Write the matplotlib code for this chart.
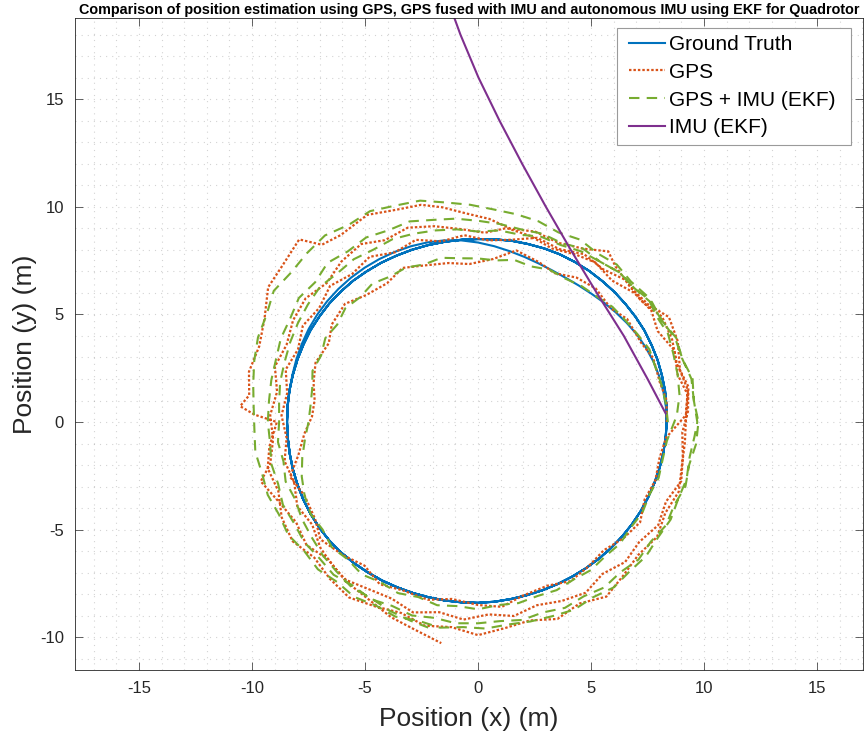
import matplotlib
matplotlib.use('Agg')
import matplotlib.pyplot as plt
from matplotlib.ticker import MultipleLocator
from matplotlib.patches import Rectangle
from matplotlib import font_manager
import numpy as np

# ---------------------------------------------------------------------------
# data
# each lap is stored as heading angle inside the lap (deg) and distance from
# the origin (m); laps run counter-clockwise starting on the +x axis
# ---------------------------------------------------------------------------

# ground truth, sampled every 5 deg
gt_ang = [0, 5, 10, 15, 20, 25, 30, 35, 40, 45, 50, 55, 60, 65, 70, 75, 80, 85, 90,
          95, 100, 105, 110, 115, 120, 125, 130, 135, 140, 145, 150, 155, 160, 165, 170, 175, 180,
          185, 190, 195, 200, 205, 210, 215, 220, 225, 230, 235, 240, 245, 250, 255, 260, 265, 270,
          275, 280, 285, 290, 295, 300, 305, 310, 315, 320, 325, 330, 335, 340, 345, 350, 355, 360]
gt_r_first = [8.35, 8.34, 8.32, 8.29, 8.25, 8.19, 8.12, 8.03, 7.94, 7.86, 7.79, 7.75, 7.74, 7.77, 7.84, 7.94, 8.06, 8.2, 8.34,
              8.47, 8.57, 8.64, 8.69, 8.72, 8.74, 8.75, 8.75, 8.74, 8.72, 8.69, 8.65, 8.6, 8.55, 8.5, 8.47, 8.45, 8.45,
              8.45, 8.46, 8.48, 8.5, 8.53, 8.55, 8.57, 8.58, 8.57, 8.55, 8.52, 8.5, 8.47, 8.45, 8.43, 8.42, 8.41, 8.4,
              8.38, 8.35, 8.33, 8.32, 8.31, 8.3, 8.3, 8.3, 8.3, 8.3, 8.3, 8.3, 8.3, 8.3, 8.31, 8.32, 8.33, 8.35]
gt_r_later = [8.35, 8.37, 8.4, 8.42, 8.45, 8.47, 8.5, 8.51, 8.52, 8.54, 8.55, 8.57, 8.58, 8.59, 8.58, 8.56, 8.55, 8.52, 8.5,
              8.5, 8.5, 8.51, 8.52, 8.53, 8.55, 8.56, 8.58, 8.58, 8.58, 8.56, 8.55, 8.52, 8.5, 8.48, 8.47, 8.46, 8.45,
              8.45, 8.46, 8.48, 8.5, 8.53, 8.55, 8.57, 8.58, 8.57, 8.55, 8.52, 8.5, 8.47, 8.45, 8.43, 8.42, 8.41, 8.4,
              8.38, 8.35, 8.33, 8.32, 8.31, 8.3, 8.3, 8.3, 8.3, 8.3, 8.3, 8.3, 8.3, 8.3, 8.31, 8.32, 8.33, 8.35]

# GPS fixes, four laps (the last one partial)
gps_ang_1 = [0, 7, 13, 21, 27, 36, 42, 50, 57, 64, 70, 78, 85, 93, 100, 108, 115, 122, 130, 137,
             145, 151, 159, 166, 172, 178, 184, 191, 197, 204, 212, 218, 226, 233, 240, 247, 255, 262, 270, 277,
             284, 292, 299, 306, 313, 320, 327, 334, 341, 348, 355]
gps_r_1 = [8.35, 8.4, 8.25, 8.3, 8.1, 8.15, 7.9, 8.1, 8.0, 7.7, 7.9, 8.15, 7.6, 7.35, 7.5, 7.65, 7.9, 7.6, 7.7, 8.05,
           7.9, 7.55, 7.7, 7.5, 7.3, 7.35, 7.7, 8.1, 8.7, 8.4, 8.5, 8.85, 8.6, 8.35, 8.7, 8.5, 8.55, 8.3, 8.5, 8.65,
           8.3, 8.2, 8.45, 8.3, 8.15, 8.4, 8.55, 8.2, 8.3, 8.2, 8.35]
gps_ang_2 = [2, 9, 15, 23, 30, 36, 43, 50, 54, 60, 67, 74, 81, 87, 93, 99, 104, 110, 117, 125,
             130, 133, 140, 146, 153, 160, 167, 173, 176, 178, 180, 187, 193, 200, 207, 214, 221, 228, 235, 242,
             249, 256, 263, 270, 277, 284, 291, 298, 305, 312, 319, 326, 333, 340, 347, 354]
gps_r_2 = [9.2, 9.4, 9.25, 9.6, 9.75, 9.3, 9.2, 9.45, 9.8, 9.3, 9.05, 9.2, 9.1, 9.45, 9.7, 10.1, 10.4, 10.5, 10.8, 10.6,
           10.75, 11.6, 11.3, 11.2, 10.6, 10.3, 10.4, 10.2, 10.55, 9.9, 8.9, 9.3, 9.55, 9.4, 9.75, 9.9, 9.6, 9.8, 9.95, 9.7,
           9.5, 9.75, 9.6, 9.9, 9.65, 9.5, 9.8, 9.55, 9.9, 9.6, 9.4, 9.55, 9.3, 9.45, 9.25, 9.2]
gps_ang_3 = [1, 8, 14, 21, 28, 34, 41, 48, 55, 61, 68, 75, 82, 88, 95, 102, 109, 116, 122, 129,
             136, 143, 150, 157, 164, 171, 178, 185, 192, 196, 203, 210, 217, 224, 231, 238, 245, 252, 259, 266,
             273, 280, 287, 294, 301, 308, 315, 322, 329, 336, 343, 350, 357]
gps_r_3 = [9.2, 9.35, 9.1, 9.3, 9.0, 9.25, 9.15, 8.85, 9.05, 8.9, 8.7, 8.95, 9.1, 8.8, 9.0, 9.3, 9.55, 9.4, 9.75, 9.6,
           9.3, 9.55, 9.45, 9.2, 9.35, 9.0, 9.2, 9.1, 9.4, 10.0, 9.55, 9.3, 9.5, 9.2, 9.4, 9.15, 9.05, 9.3, 9.0, 9.2,
           8.95, 9.15, 8.9, 9.1, 9.25, 8.95, 9.2, 9.05, 9.3, 9.1, 9.4, 9.2, 9.05]
gps_ang_4 = [3, 10, 17, 24, 31, 38, 45, 52, 59, 66, 73, 80, 87, 94, 101, 108, 115, 122, 129, 136,
             143, 150, 157, 164, 171, 178, 185, 192, 199, 206, 213, 220, 227, 234, 241, 247, 254, 261]
gps_r_4 = [9.3, 9.45, 9.2, 9.4, 9.5, 9.15, 9.3, 9.0, 9.1, 8.8, 8.95, 8.6, 8.45, 8.7, 8.55, 8.9, 8.7, 9.05, 8.85, 9.1,
           8.8, 8.95, 8.65, 8.85, 8.55, 8.7, 8.5, 8.75, 8.6, 8.9, 8.75, 9.1, 9.3, 9.45, 9.6, 9.85, 10.05, 10.4]

# GPS fused with IMU (EKF), four laps (the last one partial)
ekf_ang_1 = [0, 6, 12, 18, 24, 30, 36, 42, 48, 54, 60, 66, 72, 78, 84, 90, 96, 102, 108, 114,
             120, 126, 132, 138, 144, 150, 156, 162, 168, 174, 180, 186, 192, 198, 204, 210, 216, 222, 228, 234,
             240, 246, 252, 258, 264, 270, 276, 282, 288, 294, 300, 306, 312, 318, 324, 330, 336, 342, 348, 354]
ekf_r_1 = [8.4, 8.35, 8.3, 8.25, 8.3, 8.15, 8.05, 8.0, 7.85, 7.8, 7.7, 7.75, 7.6, 7.7, 7.55, 7.6, 7.65, 7.8, 7.7, 7.85,
           7.8, 7.95, 7.8, 7.9, 7.7, 7.8, 7.6, 7.7, 7.5, 7.45, 7.5, 7.7, 7.95, 8.2, 8.4, 8.55, 8.5, 8.7, 8.6, 8.75,
           8.6, 8.7, 8.55, 8.7, 8.6, 8.7, 8.55, 8.6, 8.5, 8.55, 8.45, 8.5, 8.4, 8.45, 8.35, 8.4, 8.3, 8.4, 8.35, 8.4]
ekf_ang_2 = [2, 8, 14, 20, 26, 32, 38, 44, 50, 56, 62, 68, 74, 80, 86, 92, 98, 104, 110, 116,
             122, 128, 134, 140, 146, 152, 158, 164, 170, 176, 182, 188, 194, 200, 206, 212, 218, 224, 230, 236,
             242, 248, 254, 260, 266, 272, 278, 284, 290, 296, 302, 308, 314, 320, 326, 332, 338, 344, 350, 356]
ekf_r_2 = [8.8, 9.0, 9.1, 9.2, 9.35, 9.3, 9.5, 9.4, 9.55, 9.45, 9.6, 9.5, 9.7, 9.8, 9.9, 10.1, 10.3, 10.6, 10.7, 10.9,
           10.8, 11.0, 10.9, 10.8, 10.9, 10.6, 10.5, 10.3, 10.1, 9.95, 9.9, 9.95, 9.85, 9.9, 9.8, 9.9, 9.75, 9.85, 9.7, 9.8,
           9.65, 9.75, 9.6, 9.7, 9.55, 9.6, 9.5, 9.55, 9.6, 9.7, 9.6, 9.75, 9.65, 9.7, 9.6, 9.65, 9.55, 9.6, 9.5, 9.6]
ekf_ang_3 = [0, 6, 12, 18, 24, 30, 36, 42, 48, 54, 60, 66, 72, 78, 84, 90, 96, 102, 108, 114,
             120, 126, 132, 138, 144, 150, 156, 162, 168, 174, 180, 186, 192, 198, 204, 210, 216, 222, 228, 234,
             240, 246, 252, 258, 264, 270, 276, 282, 288, 294, 300, 306, 312, 318, 324, 330, 336, 342, 348, 354]
ekf_r_3 = [9.7, 9.6, 9.7, 9.5, 9.6, 9.4, 9.5, 9.3, 9.35, 9.2, 9.3, 9.1, 9.2, 9.15, 9.25, 9.35, 9.5, 9.6, 9.8, 9.75,
           9.9, 9.8, 9.95, 9.7, 9.8, 9.6, 9.55, 9.4, 9.35, 9.3, 9.3, 9.25, 9.35, 9.3, 9.45, 9.4, 9.5, 9.45, 9.55, 9.4,
           9.5, 9.35, 9.45, 9.3, 9.4, 9.35, 9.3, 9.4, 9.3, 9.45, 9.35, 9.5, 9.4, 9.55, 9.45, 9.6, 9.5, 9.65, 9.55, 9.7]
ekf_ang_4 = [0, 6, 12, 18, 24, 30, 36, 42, 48, 54, 60, 66, 72, 78, 84, 90, 96, 102, 108, 114,
             120, 126, 132, 138, 144, 150, 156, 162, 168, 174, 180, 186, 192, 198, 204, 210, 216, 222, 228, 234,
             240, 246, 252, 257]
ekf_r_4 = [9.75, 9.6, 9.65, 9.5, 9.55, 9.4, 9.45, 9.3, 9.35, 9.2, 9.15, 9.0, 9.05, 8.9, 8.95, 8.85, 9.0, 9.1, 9.2, 9.3,
           9.25, 9.35, 9.3, 9.4, 9.3, 9.2, 9.1, 9.0, 8.95, 8.85, 8.8, 8.9, 8.8, 8.95, 8.85, 9.0, 9.1, 9.25, 9.35, 9.5,
           9.45, 9.6, 9.7, 9.8]

# autonomous IMU (EKF), x / y in metres
imu_x = [8.30, 7.50, 6.45, 5.25, 4.10, 3.00, 1.95, 0.95, 0.02, -0.78, -1.30]
imu_y = [0.40, 2.00, 4.00, 6.00, 8.00, 10.00, 12.00, 14.00, 16.00, 18.00, 19.50]

labels = ['Ground Truth', 'GPS', 'GPS + IMU (EKF)', 'IMU (EKF)']
colors = ['#0072BD', '#D95319', '#77AC30', '#7E2F8E']
title_text = ('Comparison of position estimation using GPS, GPS fused with IMU and '
              'autonomous IMU using EKF for Quadrotor')


def laps_to_xy(laps):
    # laps: list of (angle list, radius list); lap k is shifted by k * 360 deg
    angs, rads = [], []
    for k, (ang, rad) in enumerate(laps):
        assert len(ang) == len(rad)
        angs += [a + 360 * k for a in ang]
        rads += list(rad)
    a = np.radians(np.asarray(angs, dtype=float))
    r = np.asarray(rads, dtype=float)
    return r * np.cos(a), r * np.sin(a)


gt_x, gt_y = laps_to_xy([(gt_ang, gt_r_first), (gt_ang[1:], gt_r_later[1:]),
                         (gt_ang[1:], gt_r_later[1:]), (gt_ang[1:53], gt_r_later[1:53])])
gps_x, gps_y = laps_to_xy([(gps_ang_1, gps_r_1), (gps_ang_2, gps_r_2),
                           (gps_ang_3, gps_r_3), (gps_ang_4, gps_r_4)])
ekf_x, ekf_y = laps_to_xy([(ekf_ang_1, ekf_r_1), (ekf_ang_2, ekf_r_2),
                           (ekf_ang_3, ekf_r_3), (ekf_ang_4, ekf_r_4)])

series = [(gt_x, gt_y), (gps_x, gps_y), (ekf_x, ekf_y), (imu_x, imu_y)]
styles = ['-', (0, (1.1, 0.9)), (0, (5.0, 3.5)), '-']
widths = [1.5, 1.6, 1.5, 1.5]

# ---------------------------------------------------------------------------
# figure
# ---------------------------------------------------------------------------

available = {f.name for f in font_manager.fontManager.ttflist}
base_font = 'Liberation Sans' if 'Liberation Sans' in available else 'DejaVu Sans'
title_font = 'Liberation Sans Narrow' if 'Liberation Sans Narrow' in available else base_font
plt.rcParams['font.family'] = [base_font, 'DejaVu Sans']
plt.rcParams['axes.unicode_minus'] = False

W, H = 865, 738
fig = plt.figure(figsize=(W / 100, H / 100), dpi=100)
ax = fig.add_axes([75 / W, (H - 670) / H, (863 - 75) / W, (670 - 18) / H])

for (xs, ys), lab, col, ls, lw in zip(series, labels, colors, styles, widths):
    ax.plot(xs, ys, color=col, linestyle=ls, linewidth=lw, label=lab)

ax.set_xlim(-17.83, 17.03)
ax.set_ylim(-11.52, 18.77)

ax.xaxis.set_major_locator(MultipleLocator(5))
ax.yaxis.set_major_locator(MultipleLocator(5))
ax.xaxis.set_minor_locator(MultipleLocator(1))
ax.yaxis.set_minor_locator(MultipleLocator(1))
ax.grid(which='both', linestyle=(0, (1, 4.5)), color='#262626', alpha=0.2, linewidth=0.8)
ax.set_axisbelow(True)

ax.tick_params(which='major', direction='in', length=5.5, width=0.5, top=True, right=True,
               labelsize=12, colors='#262626', pad=8)
ax.tick_params(which='minor', length=0)
for sp in ax.spines.values():
    sp.set_color('#262626')
    sp.set_linewidth(0.6)

ax.set_xlabel('Position (x) (m)', fontsize=19, color='#262626', labelpad=8)
ax.set_ylabel('Position (y) (m)', fontsize=19, color='#262626', labelpad=2)

# legend without its own frame, the box is drawn separately so the padding matches
leg = ax.legend(loc='upper left', bbox_to_anchor=((629 - 75) / 788, (670 - 35) / 652), borderaxespad=0,
                fontsize=15, frameon=False, handlelength=1.73, handletextpad=0.2,
                labelspacing=0.42, borderpad=0)
leg.set_zorder(6)
box = Rectangle((617 / W, (H - 145) / H), 234 / W, 117 / H, transform=fig.transFigure,
                facecolor='white', edgecolor='#9a9a9a', linewidth=0.8, zorder=5)
ax.add_artist(box)

title = ax.set_title(title_text, fontweight='bold', fontsize=11, pad=3, family=[title_font, 'DejaVu Sans'])

# scale the title so it spans the same width as in the reference
fig.canvas.draw()
w = title.get_window_extent().width
title.set_fontsize(11 * 786 / w)

fig.savefig('out.png', dpi=100)
